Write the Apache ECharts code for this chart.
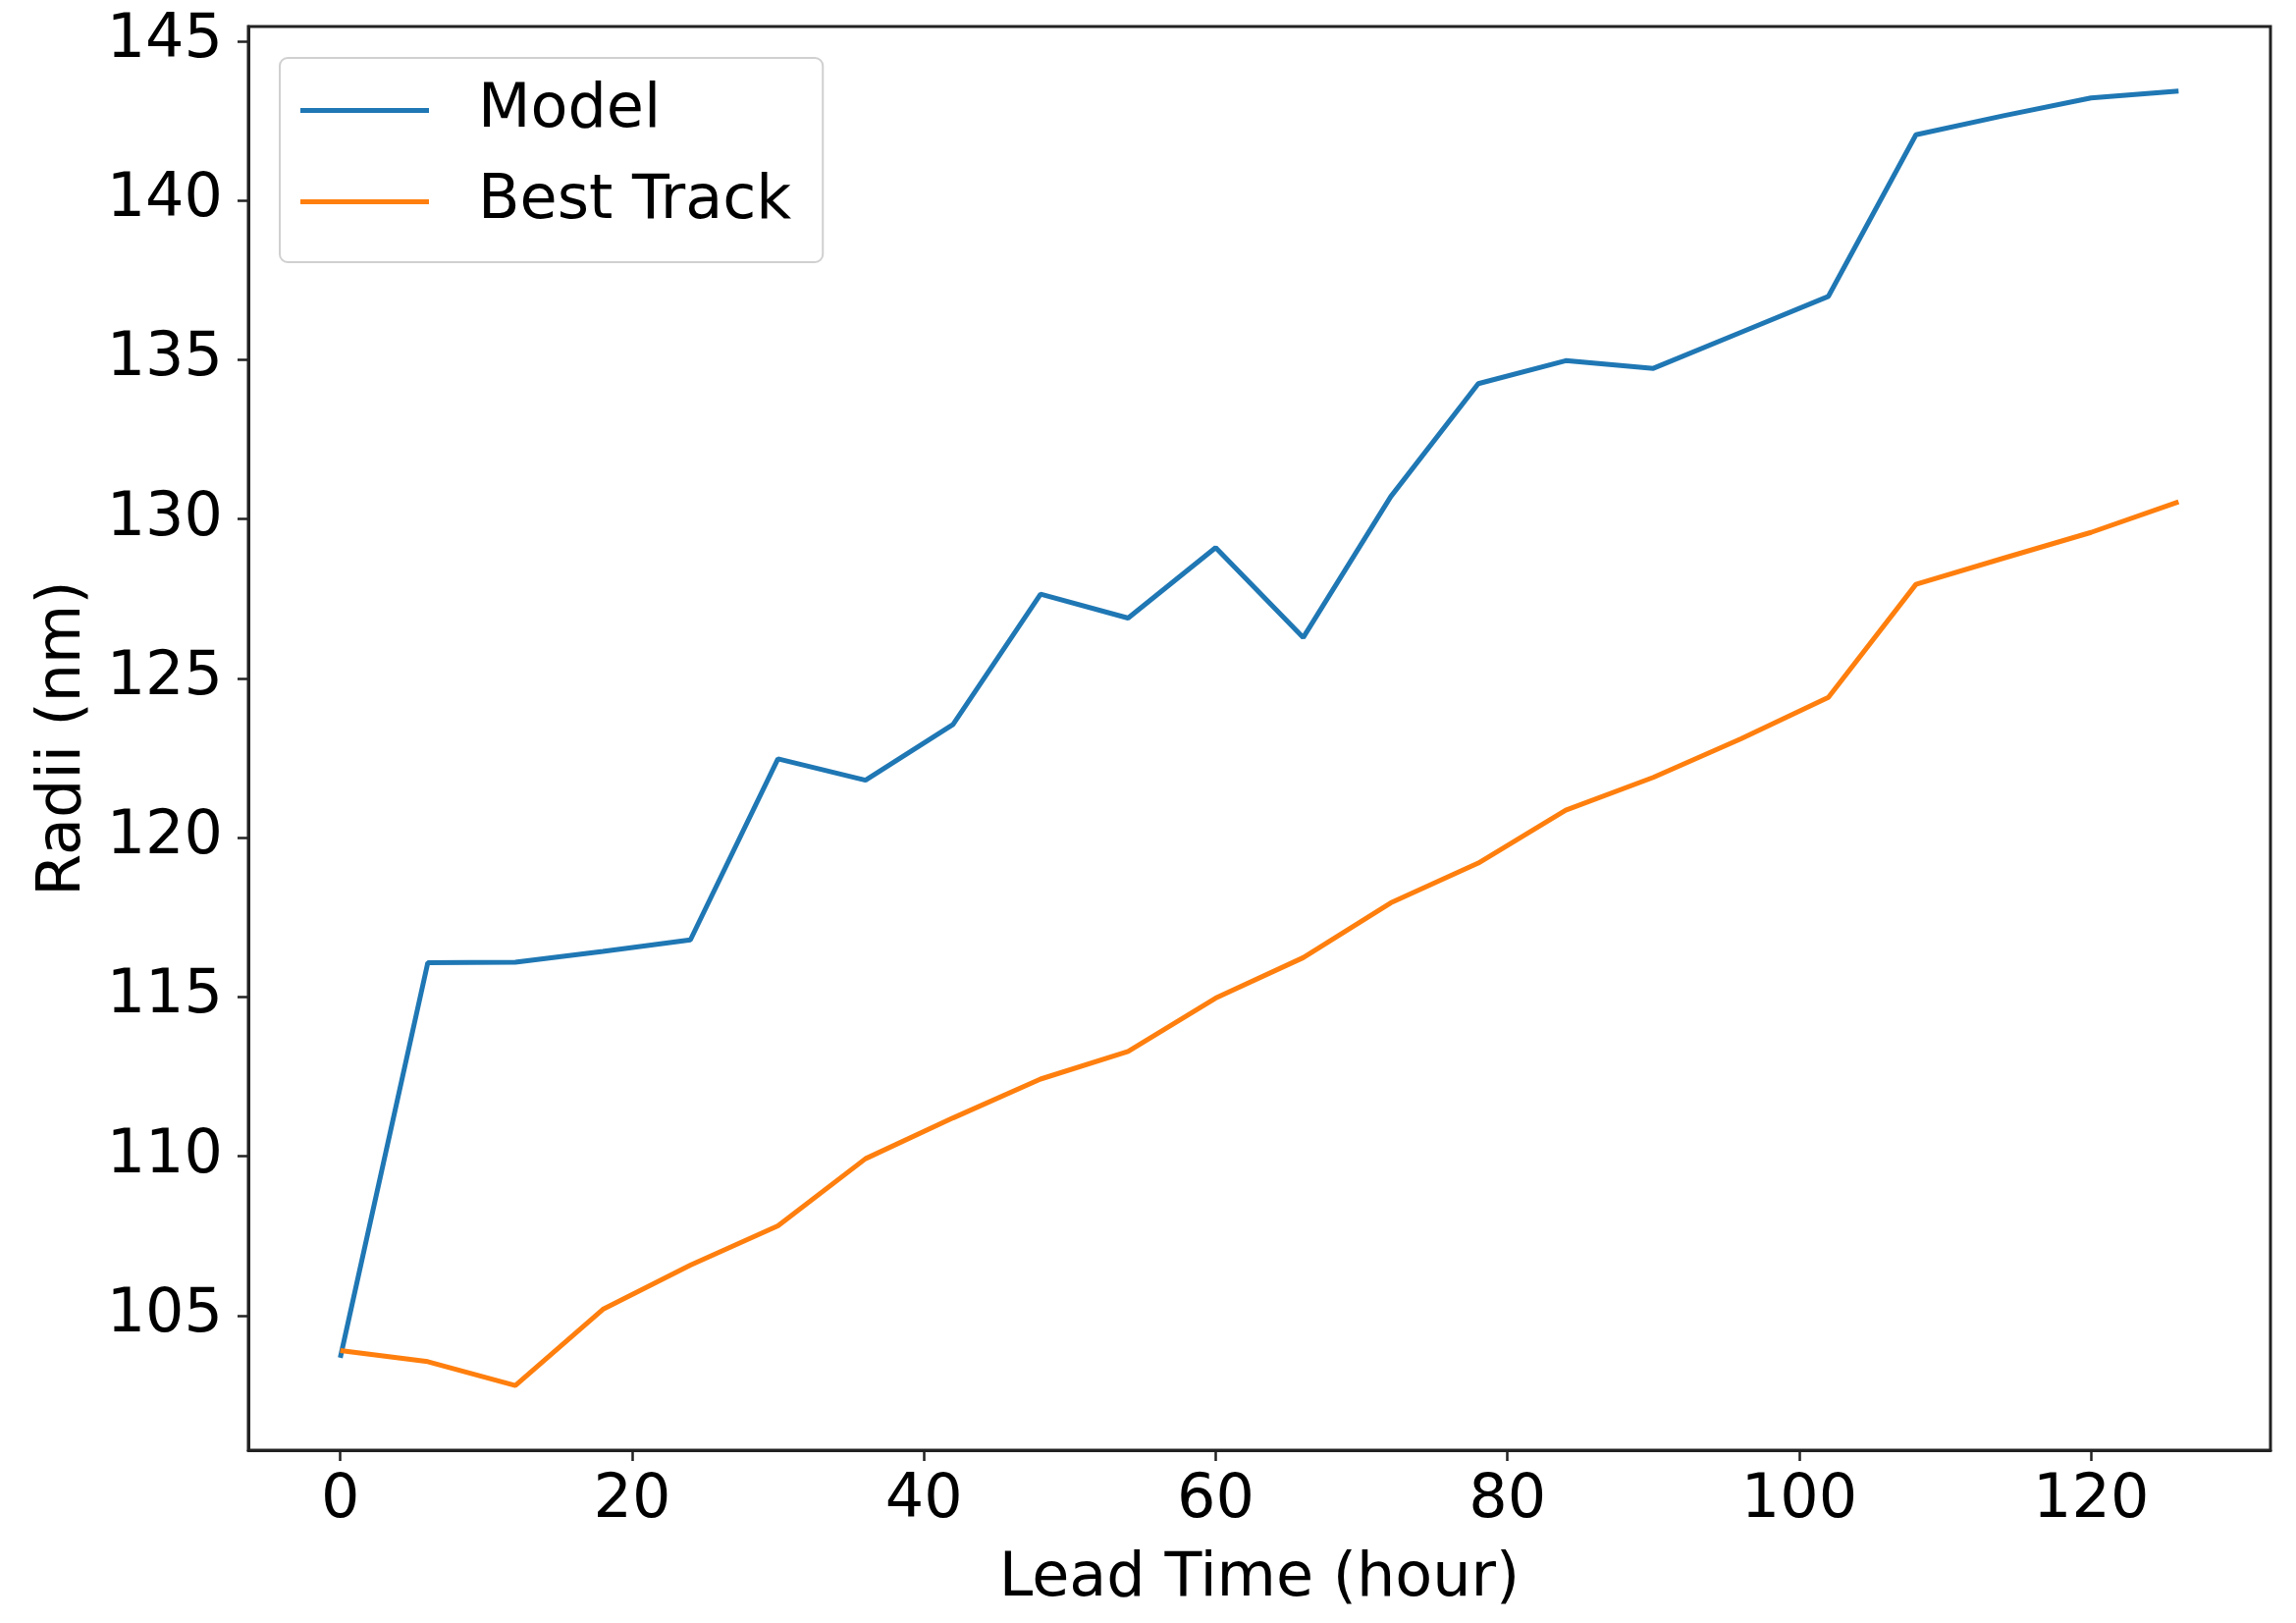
<!DOCTYPE html>
<html>
<head>
<meta charset="utf-8">
<script src="https://cdn.jsdelivr.net/npm/echarts@6.0.0/dist/echarts.min.js"></script>
<style>
  html, body { margin: 0; padding: 0; background: #fff; }
  #chart { width: 2339px; height: 1653px; }
</style>
</head>
<body>
<div id="chart"></div>
<script>
const leadTime = [0, 6, 12, 18, 24, 30, 36, 42, 48, 54, 60, 66, 72, 78, 84, 90, 96, 102, 108, 114, 120, 126];
const modelRadii = [103.67, 116.07, 116.09, 116.43, 116.79, 122.47, 121.80, 123.55, 127.64, 126.89, 129.10, 126.28, 130.70, 134.25, 134.97, 134.73, 135.86, 136.99, 142.06, 142.66, 143.22, 143.43];
const bestTrackRadii = [103.90, 103.55, 102.80, 105.19, 106.58, 107.81, 109.92, 111.20, 112.42, 113.29, 114.96, 116.23, 117.95, 119.20, 120.86, 121.89, 123.10, 124.40, 127.95, 128.77, 129.58, 130.54];
const xTicks = [0, 20, 40, 60, 80, 100, 120];
const yTicks = [105, 110, 115, 120, 125, 130, 135, 140, 145];
const seriesNames = ['Model', 'Best Track'];
const xName = 'Lead Time (hour)';
const yName = 'Radii (nm)';

const FONT = "'DejaVu Sans', 'Noto Sans', sans-serif";
const FS = 62;
const AXIS_COLOR = '#222';

const chart = echarts.init(document.getElementById('chart'), null, { renderer: 'canvas' });

const toPairs = (xs, ys) => xs.map((x, i) => [x, ys[i]]);

chart.setOption({
  animation: false,
  backgroundColor: '#ffffff',
  grid: {
    left: 253, right: 26, top: 27, bottom: 176,
    show: true,
    borderColor: AXIS_COLOR,
    borderWidth: 3,
    backgroundColor: 'transparent'
  },
  legend: {
    data: seriesNames,
    orient: 'vertical',
    left: 285,
    top: 59,
    padding: [20, 32, 28, 21],
    itemGap: 26,
    itemWidth: 131,
    itemHeight: 5,
    icon: 'rect',
    backgroundColor: 'rgba(255,255,255,0.8)',
    borderColor: '#d0d0d0',
    borderWidth: 2,
    borderRadius: 8,
    textStyle: {
      fontFamily: FONT,
      fontSize: FS,
      lineHeight: 64,
      color: '#000',
      padding: [3, 0, 0, 45]
    },
    z: 10
  },
  xAxis: {
    type: 'value',
    min: -6.3,
    max: 132.3,
    name: xName,
    nameLocation: 'middle',
    nameGap: 101,
    nameTextStyle: { fontFamily: FONT, fontSize: FS, color: '#000' },
    axisLine: { show: true, onZero: false, lineStyle: { color: AXIS_COLOR, width: 3 } },
    axisTick: { show: true, length: 11, lineStyle: { color: AXIS_COLOR, width: 2.5 }, customValues: xTicks },
    axisLabel: {
      fontFamily: FONT, fontSize: FS, color: '#000', margin: 21,
      customValues: xTicks,
      formatter: v => String(v)
    },
    splitLine: { show: false }
  },
  yAxis: {
    type: 'value',
    min: 100.77,
    max: 145.46,
    name: yName,
    nameLocation: 'middle',
    nameGap: 157,
    nameRotate: 90,
    nameTextStyle: { fontFamily: FONT, fontSize: FS, color: '#000' },
    axisLine: { show: true, onZero: false, lineStyle: { color: AXIS_COLOR, width: 3 } },
    axisTick: { show: true, length: 11, lineStyle: { color: AXIS_COLOR, width: 2.5 }, customValues: yTicks },
    axisLabel: {
      fontFamily: FONT, fontSize: FS, color: '#000', margin: 26,
      customValues: yTicks,
      formatter: v => String(v)
    },
    splitLine: { show: false }
  },
  series: [
    {
      name: seriesNames[0],
      type: 'line',
      data: toPairs(leadTime, modelRadii),
      symbol: 'none',
      color: '#1f77b4',
      lineStyle: { color: '#1f77b4', width: 5 }
    },
    {
      name: seriesNames[1],
      type: 'line',
      data: toPairs(leadTime, bestTrackRadii),
      symbol: 'none',
      color: '#ff7f0e',
      lineStyle: { color: '#ff7f0e', width: 5 }
    }
  ]
});
</script>
</body>
</html>
